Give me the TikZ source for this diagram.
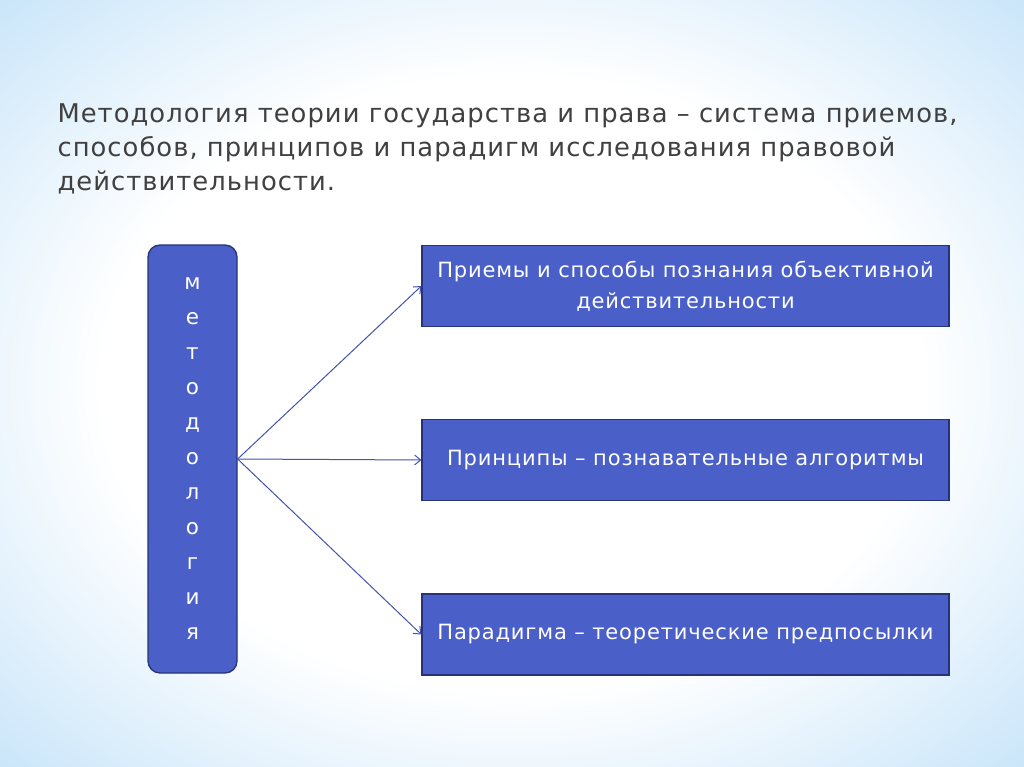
\documentclass[tikz,border=0pt]{standalone}
\usepackage{fontspec}
\setmainfont{DejaVu Sans}[LetterSpace=4]
\usetikzlibrary{arrows.meta, positioning}
\definecolor{boxfill}{RGB}{74,96,200}
\definecolor{boxline}{RGB}{40,50,120}
\definecolor{arrowcol}{RGB}{66,84,176}
\definecolor{titlecol}{RGB}{64,64,64}
\definecolor{bgedge}{RGB}{165,212,246}
\definecolor{bgcorner}{RGB}{125,190,240}
\pgfdeclareradialshading{slidebg}{\pgfpoint{0bp}{0bp}}{color(0bp)=(white); color(20bp)=(white); color(46bp)=(bgedge); color(72bp)=(bgcorner)}
\tikzstyle{method} = [rectangle, rounded corners=12pt, minimum width=89pt, minimum height=428pt, draw=boxline, line width=1.3pt, fill=boxfill, text=white, align=center, font=\fontsize{21.5}{35}\selectfont]
\tikzstyle{stepbox} = [rectangle, minimum width=527pt, minimum height=81pt, draw=boxline, line width=1.3pt, fill=boxfill, text=white, align=center, font=\fontsize{21}{31}\selectfont]
\tikzstyle{arrow} = [arrowcol, line width=1pt, -{Straight Barb[length=6pt, width=10pt]}]
\begin{document}
\begin{tikzpicture}[x=1pt, y=-1pt]
	\shade[shading=slidebg] (0,0) rectangle (1024,767);
	\useasboundingbox (0,0) rectangle (1024,767);

	\node (title) [anchor=north west, align=left, text=titlecol, font=\fontsize{25.8}{34}\selectfont] at (54,100) {Методология теории государства и права – система приемов,\\способов, принципов и парадигм исследования правовой\\действительности.};

	\node (metod) [method] at (192.5,459) {м\\е\\т\\о\\д\\о\\л\\о\\г\\и\\я};
	\node (priemy) [stepbox] at (685.5,286) {Приемы и способы познания объективной\\действительности};
	\node (princip) [stepbox] at (685.5,460) {Принципы – познавательные алгоритмы};
	\node (paradigm) [stepbox] at (685.5,634.5) {Парадигма – теоретические предпосылки};

	\draw [arrow] (metod.east) -- (priemy.west);
	\draw [arrow] (metod.east) -- (princip.west);
	\draw [arrow] (metod.east) -- (paradigm.west);
\end{tikzpicture}
\end{document}
